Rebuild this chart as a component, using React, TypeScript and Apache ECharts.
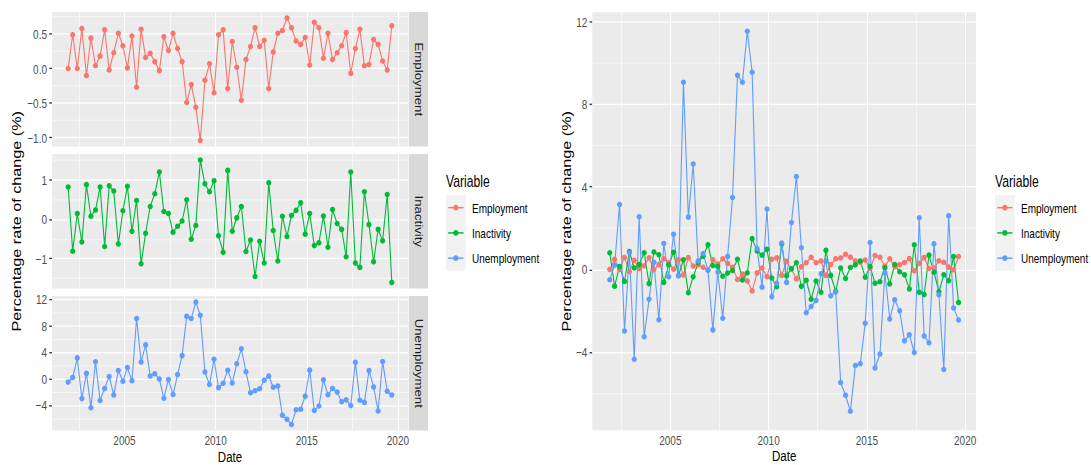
import React, { useEffect, useRef } from "react";
import * as echarts from "echarts";

// ---- data -------------------------------------------------------------
const variables = ["Employment", "Inactivity", "Unemployment"];
const colors = ["#F8766D", "#00BA38", "#619CFF"];

// quarterly observations, first one in December 2001
const startYear = 2001;
const startMonth = 12;

const employment = [
  0.0, 0.49, 0.0, 0.58, -0.1, 0.44, 0.04, 0.18, 0.56, -0.02,
  0.23, 0.51, 0.33, 0.01, 0.47, -0.27, 0.57, 0.16, 0.22, 0.1,
  -0.03, 0.46, 0.26, 0.51, 0.29, 0.1, -0.49, -0.23, -0.56, -1.04,
  -0.17, 0.07, -0.35, 0.49, 0.56, -0.29, 0.39, 0.02, -0.46, 0.13,
  0.32, 0.59, 0.32, 0.41, -0.29, 0.24, 0.51, 0.55, 0.73, 0.59,
  0.4, 0.35, 0.45, 0.05, 0.67, 0.59, 0.15, 0.51, 0.13, 0.23,
  0.33, 0.52, -0.07, 0.29, 0.57, 0.04, 0.06, 0.42, 0.35, 0.11,
  -0.02, 0.62,
];

const inactivity = [
  0.81, -0.81, 0.14, -0.58, 0.87, 0.07, 0.23, 0.81, -0.69, 0.84,
  0.71, -0.63, 0.21, 0.83, -0.31, 0.47, -1.13, -0.36, 0.32, 0.64,
  1.19, 0.19, 0.14, -0.33, -0.18, -0.05, 0.49, -0.51, -0.16, 1.49,
  0.89, 0.69, 0.97, -0.42, -0.84, 1.23, -0.31, 0.03, 0.32, -0.82,
  -0.53, -1.45, -0.56, -1.11, 0.92, -0.29, -1.06, 0.07, -0.44, 0.09,
  0.22, 0.41, -0.38, 0.14, -0.67, -0.6, 0.08, -0.71, 0.24, -0.11,
  -0.26, -0.95, 1.19, -1.11, -1.22, 0.69, -0.14, -1.08, -0.26, -0.55,
  0.62, -1.6,
];

const unemployment = [
  -0.5, 0.2, 3.14, -2.98, 0.81, -4.35, 2.55, -3.26, -1.45, 0.35,
  -2.44, 1.25, -0.36, 1.7, -0.3, 9.06, 2.53, 5.1, 0.41, 0.77,
  -0.04, -2.93, -0.12, -2.37, 0.63, 3.48, 9.4, 9.06, 11.53, 9.55,
  1.01, -0.86, 2.92, -1.33, -0.68, 1.28, -0.63, 2.27, 4.5, 1.05,
  -2.1, -1.8, -1.51, -0.21, 0.4, -1.28, -1.09, -5.48, -6.1, -6.87,
  -4.65, -4.57, -2.61, 1.3, -4.78, -4.1, -0.16, -2.4, -1.47, -2.0,
  -3.46, -3.17, -4.03, 2.5, -3.23, -3.55, 1.24, -1.23, -4.85, 2.6,
  -1.87, -2.45,
];

const yearTicks = [2005, 2010, 2015, 2020];
const yearMinor = [2002.5, 2007.5, 2012.5, 2017.5];
const employmentTicks = [-1, -0.5, 0, 0.5];
const employmentMinor = [-0.75, -0.25, 0.25, 0.75];
const inactivityTicks = [-1, 0, 1];
const inactivityMinor = [-1.5, -0.5, 0.5, 1.5];
const unemploymentTicks = [-4, 0, 4, 8, 12];
const unemploymentMinor = [-6, -2, 2, 6, 10];

const yTitle = "Percentage rate of change (%)";
const xTitle = "Date";
const legendTitle = "Variable";

// ---- helpers ------------------------------------------------------------
const FONT = "'Liberation Sans', Arial, Helvetica, sans-serif";
const TICK_TEXT = "#4D4D4D";

// circular marker built from bezier curves (scaled to symbolSize)
const DOT =
  "path://M1,0C1,0.5523 0.5523,1 0,1C-0.5523,1 -1,0.5523 -1,0C-1,-0.5523 -0.5523,-1 0,-1C0.5523,-1 1,-0.5523 1,0Z";

// decimal year of each quarterly observation
function quarterYears(n: number): number[] {
  const out: number[] = [];
  for (let i = 0; i < n; i++) {
    const total = startYear * 12 + (startMonth - 1) + 3 * i;
    const y = Math.floor(total / 12);
    const m = total % 12;
    const t0 = Date.UTC(y, 0, 1);
    const t1 = Date.UTC(y + 1, 0, 1);
    out.push(y + (Date.UTC(y, m, 1) - t0) / (t1 - t0));
  }
  return out;
}

// ggplot-style 5% padding around the data range
function expand(values: number[]): [number, number] {
  const lo = Math.min(...values);
  const hi = Math.max(...values);
  const pad = (hi - lo) * 0.05;
  return [lo - pad, hi + pad];
}

function fmt(v: number, decimals: number): string {
  const s = Math.abs(v).toFixed(decimals);
  return v < 0 ? "\u2212" + s : s;
}

const years = quarterYears(employment.length);
const seriesValues = [employment, inactivity, unemployment];
const xRange = expand(years);
const panelRanges = seriesValues.map((v) => expand(v));
const combinedRange = expand([...employment, ...inactivity, ...unemployment]);

const panelTicks = [employmentTicks, inactivityTicks, unemploymentTicks];
const panelMinor = [employmentMinor, inactivityMinor, unemploymentMinor];

// ---- layout (canvas is 350px tall, stretched to 465px) ------------------
const LEFT_X = 52;
const LEFT_W = 356;
const panelTops = [9.03, 115.9, 222.8];
const PANEL_H = 101.3;
const STRIP_X = 408.7;
const STRIP_W = 19.3;

const RIGHT_X = 592.3;
const RIGHT_W = 383.7;
const RIGHT_TOP = 9.26;
const RIGHT_H = 314.6;

const POINT_W = 5.2;
const POINT_H = 4.2;

const tickStyle = { show: true, length: 2.75, lineStyle: { color: "#333333", width: 1 } };
const labelStyle = { fontSize: 10, color: TICK_TEXT, fontFamily: FONT };
const titleStyle = { fontSize: 12.2, color: "#000000", fontFamily: FONT };

function makeXAxis(gridIndex: number, showLabels: boolean): any {
  return {
    type: "value",
    gridIndex,
    min: xRange[0],
    max: xRange[1],
    axisLine: { show: false },
    splitLine: { show: false },
    axisTick: showLabels ? { ...tickStyle, customValues: yearTicks } : { show: false },
    axisLabel: showLabels
      ? { ...labelStyle, customValues: yearTicks, margin: 1.4, lineHeight: 11.5, formatter: (v: number) => String(Math.round(v)) }
      : { show: false },
    ...(showLabels
      ? {
          name: xTitle,
          nameLocation: "middle",
          nameGap: 13,
          nameMoveOverlap: false,
          nameTextStyle: { ...titleStyle, fontSize: 11.5, lineHeight: 13.1 },
        }
      : {}),
  };
}

function makeYAxis(gridIndex: number, range: [number, number], ticks: number[], decimals: number, nameGap?: number): any {
  return {
    type: "value",
    gridIndex,
    min: range[0],
    max: range[1],
    axisLine: { show: false },
    splitLine: { show: false },
    axisTick: { ...tickStyle, customValues: ticks },
    axisLabel: { ...labelStyle, customValues: ticks, margin: 5, formatter: (v: number) => fmt(v, decimals) },
    ...(nameGap !== undefined
      ? { name: yTitle, nameLocation: "middle", nameRotate: 90, nameGap, nameMoveOverlap: false, nameTextStyle: titleStyle }
      : {}),
  };
}

// white major / minor grid lines, kept underneath the data
function gridLineSeries(idx: number, yMajor: number[], yMinor: number[], yLow: number): any {
  const major = { color: "#FFFFFF", width: 1, type: "solid" };
  const minor = { color: "#FFFFFF", width: 0.5, type: "solid" };
  return {
    type: "line",
    xAxisIndex: idx,
    yAxisIndex: idx,
    data: [[xRange[0], yLow]],
    showSymbol: false,
    lineStyle: { opacity: 0 },
    silent: true,
    z: 1,
    markLine: {
      z: 1,
      silent: true,
      symbol: ["none", "none"],
      label: { show: false },
      emphasis: { disabled: true },
      data: [
        ...yearMinor.map((v) => ({ xAxis: v, lineStyle: minor })),
        ...yMinor.map((v) => ({ yAxis: v, lineStyle: minor })),
        ...yearTicks.map((v) => ({ xAxis: v, lineStyle: major })),
        ...yMajor.map((v) => ({ yAxis: v, lineStyle: major })),
      ],
    },
  };
}

function lineSeries(idx: number, k: number): any {
  return {
    type: "line",
    name: variables[k],
    xAxisIndex: idx,
    yAxisIndex: idx,
    data: years.map((x, i) => [x, seriesValues[k][i]]),
    showSymbol: false,
    lineStyle: { color: colors[k], width: 1.1, join: "round", cap: "round" },
    z: 2,
    silent: true,
  };
}

function pointSeries(idx: number, k: number): any {
  return {
    type: "scatter",
    name: variables[k],
    xAxisIndex: idx,
    yAxisIndex: idx,
    data: years.map((x, i) => [x, seriesValues[k][i]]),
    symbol: DOT,
    symbolSize: [POINT_W, POINT_H],
    itemStyle: { color: colors[k], opacity: 1 },
    z: 3,
    silent: true,
  };
}

function legendGraphic(x0: number): any[] {
  const top = 146.8;
  const keyH = 19.0;
  const keyW = 19.7;
  const els: any[] = [
    {
      type: "text",
      x: x0,
      y: 136.2,
      style: { text: legendTitle, fill: "#000000", fontSize: 12.2, fontFamily: FONT, verticalAlign: "middle", align: "left" },
    },
    { type: "rect", shape: { x: x0, y: top, width: keyW, height: keyH * 3 }, style: { fill: "#F2F2F2" } },
  ];
  variables.forEach((v, i) => {
    const cy = top + keyH * (i + 0.5);
    els.push({
      type: "line",
      shape: { x1: x0 + 2.2, y1: cy, x2: x0 + keyW - 2.2, y2: cy },
      style: { stroke: colors[i], lineWidth: 1.1 },
    });
    els.push({
      type: "ellipse",
      shape: { cx: x0 + keyW / 2, cy, rx: POINT_W / 2, ry: POINT_H / 2 },
      style: { fill: colors[i] },
    });
    els.push({
      type: "text",
      x: x0 + 26,
      y: cy,
      style: { text: v, fill: "#000000", fontSize: 10, fontFamily: FONT, verticalAlign: "middle", align: "left" },
    });
  });
  return els;
}

function stripGraphic(): any[] {
  const els: any[] = [];
  variables.forEach((v, i) => {
    els.push({
      type: "rect",
      shape: { x: STRIP_X, y: panelTops[i], width: STRIP_W, height: PANEL_H },
      style: { fill: "#D9D9D9" },
    });
    els.push({
      type: "text",
      x: STRIP_X + STRIP_W / 2,
      y: panelTops[i] + PANEL_H / 2,
      rotation: -Math.PI / 2,
      style: { text: v, fill: "#1A1A1A", fontSize: 10, fontFamily: FONT, align: "center", verticalAlign: "middle" },
    });
  });
  return els;
}

function panelGrid(left: number, top: number, width: number, height: number): any {
  return {
    left,
    top,
    width,
    height,
    show: true,
    backgroundColor: "#EBEBEB",
    borderWidth: 0,
    containLabel: false,
    outerBoundsMode: "none",
  };
}

function buildOption(): any {
  const grids: any[] = panelTops.map((top) => panelGrid(LEFT_X, top, LEFT_W, PANEL_H));
  grids.push(panelGrid(RIGHT_X, RIGHT_TOP, RIGHT_W, RIGHT_H));

  const xAxes = [makeXAxis(0, false), makeXAxis(1, false), makeXAxis(2, true), makeXAxis(3, true)];
  const yAxes = [
    makeYAxis(0, panelRanges[0], employmentTicks, 1),
    makeYAxis(1, panelRanges[1], inactivityTicks, 0, 29),
    makeYAxis(2, panelRanges[2], unemploymentTicks, 0),
    makeYAxis(3, combinedRange, unemploymentTicks, 0, 20),
  ];

  const series: any[] = [];
  for (let k = 0; k < 3; k++) {
    series.push(gridLineSeries(k, panelTicks[k], panelMinor[k], panelRanges[k][0]));
    series.push(lineSeries(k, k));
    series.push(pointSeries(k, k));
  }
  series.push(gridLineSeries(3, unemploymentTicks, unemploymentMinor, combinedRange[0]));
  for (let k = 0; k < 3; k++) series.push(lineSeries(3, k));
  for (let k = 0; k < 3; k++) series.push(pointSeries(3, k));

  return {
    animation: false,
    backgroundColor: "#FFFFFF",
    textStyle: { fontFamily: FONT },
    grid: grids,
    xAxis: xAxes,
    yAxis: yAxes,
    series,
    graphic: [...stripGraphic(), ...legendGraphic(446), ...legendGraphic(995)],
  };
}

export default function App() {
  const ref = useRef<HTMLDivElement>(null);

  useEffect(() => {
    if (!ref.current) return;
    const chart = echarts.init(ref.current, null, { renderer: "svg" });
    chart.setOption(buildOption());
    return () => chart.dispose();
  }, []);

  // Drawn on a 350px-tall canvas and stretched vertically to fill 465px,
  // which gives the tall lettering and slightly tall markers.
  return (
    <div
      ref={ref}
      style={{
        position: "absolute",
        left: 0,
        top: 0,
        width: 1091,
        height: 350,
        transform: `scaleY(${465 / 350})`,
        transformOrigin: "0 0",
      }}
    />
  );
}
